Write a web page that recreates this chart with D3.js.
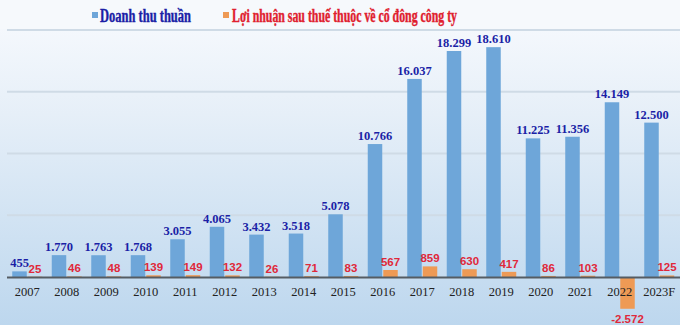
<!DOCTYPE html>
<html><head><meta charset="utf-8">
<script src="https://cdn.jsdelivr.net/npm/d3@7"></script>
<style>html,body{margin:0;padding:0;}svg{display:block;}</style>
</head><body>
<svg id="c" width="680" height="325"></svg>
<script>
const years = ["2007","2008","2009","2010","2011","2012","2013","2014","2015","2016","2017","2018","2019","2020","2021","2022","2023F"];
const revenue = [455,1770,1763,1768,3055,4065,3432,3518,5078,10766,16037,18299,18610,11225,11356,14149,12500];
const profit = [25,46,48,139,149,132,26,71,83,567,859,630,417,86,103,-2572,125];
const revenueLabels = ["455","1.770","1.763","1.768","3.055","4.065","3.432","3.518","5.078","10.766","16.037","18.299","18.610","11.225","11.356","14.149","12.500"];
const profitLabels = ["25","46","48","139","149","132","26","71","83","567","859","630","417","86","103","-2.572","125"];
const gridTicks = [5000,10000,15000,20000];
const seriesNames = ["Doanh thu thuần","Lợi nhuận sau thuế thuộc về cổ đông công ty"];

const svg = d3.select("#c");
const W = 680, H = 325;
const defs = svg.append("defs");
const g1 = defs.append("linearGradient").attr("id","bg").attr("x1",0).attr("y1",0).attr("x2",0).attr("y2",1);
g1.append("stop").attr("offset","0%").attr("stop-color","#f9fbfe");
g1.append("stop").attr("offset","35%").attr("stop-color","#e6eff8");
g1.append("stop").attr("offset","100%").attr("stop-color","#bdd7ee");
svg.append("rect").attr("width",W).attr("height",H).attr("fill","url(#bg)");
svg.append("rect").attr("x",0).attr("y",0).attr("width",W).attr("height",29).attr("fill","#f6f9fc");

const x = d3.scaleBand().domain(years).range([7.5,679]).padding(0);
const y = d3.scaleLinear().domain([0,20000]).range([277,30]);

// grid
svg.append("g").selectAll("line").data(gridTicks).join("line")
  .attr("x1",7).attr("x2",680).attr("y1",d=>y(d)).attr("y2",d=>y(d))
  .attr("stroke","#cfdbe6").attr("stroke-width",2);

const bw = 14.5;
// revenue bars
svg.append("g").selectAll("rect").data(revenue).join("rect")
  .attr("x",(d,i)=>x(years[i])+x.bandwidth()/2-bw-0.5)
  .attr("y",d=>y(d)).attr("width",bw).attr("height",d=>y(0)-y(d))
  .attr("fill","#6ea6d9");
// profit bars
svg.append("g").selectAll("rect").data(profit).join("rect")
  .attr("x",(d,i)=>x(years[i])+x.bandwidth()/2+0.5)
  .attr("y",d=>y(Math.max(0,d))).attr("width",bw).attr("height",d=>Math.abs(y(0)-y(d)))
  .attr("fill","#ee9a55");

// baseline
svg.append("line").attr("x1",7).attr("x2",680).attr("y1",y(0)+0.5).attr("y2",y(0)+0.5)
  .attr("stroke","#555c63").attr("stroke-width",2);

// x axis labels
const xAxis = d3.axisBottom(x).tickSize(0).tickPadding(9);
const ax = svg.append("g").attr("transform",`translate(0,${y(0)+1})`).call(xAxis);
ax.select(".domain").remove();
ax.selectAll("text").attr("font-family","Liberation Serif").attr("font-size",12.5).attr("fill","#222");

// revenue labels
svg.append("g").selectAll("text").data(revenue).join("text")
  .attr("x",(d,i)=>x(years[i])+x.bandwidth()/2-bw/2-0.5)
  .attr("y",d=>y(d)-4)
  .attr("text-anchor","middle")
  .attr("font-family","Liberation Serif").attr("font-weight","bold").attr("font-size",12.5)
  .attr("fill","#1b1fa6")
  .text((d,i)=>revenueLabels[i]);

// profit labels
svg.append("g").selectAll("text").data(profit).join("text")
  .attr("x",(d,i)=>x(years[i])+x.bandwidth()/2+bw/2+0.5)
  .attr("y",d=> d<0 ? y(d)+14 : y(d)-4)
  .attr("text-anchor","middle")
  .attr("font-family","Liberation Sans").attr("font-weight","bold").attr("font-size",11.5)
  .attr("fill","#e0283a")
  .text((d,i)=>profitLabels[i]);

// legend
const leg = svg.append("g");
leg.append("rect").attr("x",92).attr("y",12).attr("width",6).attr("height",6).attr("fill","#6ea6d9");
leg.append("text").attr("x",100).attr("y",22).attr("font-family","Liberation Serif").attr("font-weight","bold")
  .attr("font-size",18).attr("fill","#1b1fa6").attr("stroke","#1b1fa6").attr("stroke-width",0.4)
  .attr("textLength",91).attr("lengthAdjust","spacingAndGlyphs").text(seriesNames[0]);
leg.append("rect").attr("x",223).attr("y",12).attr("width",6).attr("height",6).attr("fill","#ee9a55");
leg.append("text").attr("x",232).attr("y",22).attr("font-family","Liberation Serif").attr("font-weight","bold")
  .attr("font-size",18).attr("fill","#e0202e").attr("stroke","#e0202e").attr("stroke-width",0.4)
  .attr("textLength",225).attr("lengthAdjust","spacingAndGlyphs").text(seriesNames[1]);
</script>
</body></html>
